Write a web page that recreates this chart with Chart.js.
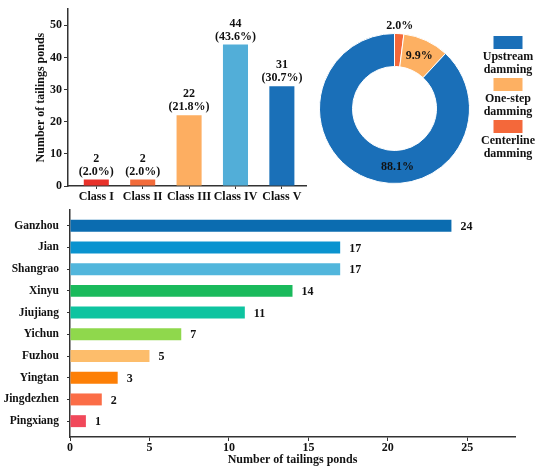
<!DOCTYPE html>
<html>
<head>
<meta charset="utf-8">
<script src="https://cdn.jsdelivr.net/npm/chart.js@4"></script>
<style>
  body{margin:0;background:#fff;}
  .box{position:absolute;}
</style>
</head>
<body>
<div class="box" style="left:0;top:0;width:312px;height:212px"><canvas id="classChart"></canvas></div>
<div class="box" style="left:310px;top:0;width:240px;height:195px"><canvas id="damChart"></canvas></div>
<div class="box" style="left:0;top:195px;width:550px;height:278px"><canvas id="cityChart"></canvas></div>
<script>
// datos
const classLabels = ['Class I','Class II','Class III','Class IV','Class V'];
const classCounts = [2, 2, 22, 44, 31];
const classPct = ['2.0','2.0','21.8','43.6','30.7'];
const classColors = ['#e8312a','#f26b3a','#fdae61','#52aed8','#1a70b8'];

const damLabels = [['Centerline','damming'],['One-step','damming'],['Upstream','damming']];
const damPct = [2.0, 9.9, 88.1];
const damColors = ['#f4683a','#fdb062','#1a6fb8'];

const cities = ['Ganzhou','Jian','Shangrao','Xinyu','Jiujiang','Yichun','Fuzhou','Yingtan','Jingdezhen','Pingxiang'];
const cityCounts = [24, 17, 17, 14, 11, 7, 5, 3, 2, 1];
const cityColors = ['#0b6cb0','#0a93cf','#52b6dc','#1aba5c','#0ec4a0','#8fd84c','#fdbd6b','#fd7f06','#fb6d47','#f1485a'];

const FONT = 'Liberation Serif';
const bold = (s)=>({family:FONT, size:s, weight:'bold'});
const ink = '#111';
Chart.defaults.color = ink;

// ticks enteros solo en las posiciones de las categorias
const indexTicks = (n)=> (s)=>{ s.ticks = Array.from({length:n}, (_,i)=>({value:i})); };

// etiquetas encima de las barras (valor + porcentaje)
const classLabelPlugin = {
  id:'classLabels',
  afterDatasetsDraw(chart){
    const ctx = chart.ctx;
    ctx.save();
    ctx.font = 'bold 12px "'+FONT+'"';
    ctx.fillStyle = ink;
    ctx.textAlign = 'center';
    ctx.textBaseline = 'bottom';
    chart.getDatasetMeta(0).data.forEach((bar,i)=>{
      ctx.fillText('('+classPct[i]+'%)', bar.x, bar.y - 2);
      ctx.fillText(String(classCounts[i]), bar.x, bar.y - 15);
    });
    ctx.restore();
  }
};

new Chart(document.getElementById('classChart'), {
  type:'bar',
  data:{ datasets:[{ data:classCounts.map((v,i)=>({x:i, y:v})), backgroundColor:classColors, barPercentage:0.54, categoryPercentage:1 }] },
  options:{
    responsive:true, maintainAspectRatio:false, animation:false,
    layout:{ padding:{ top:8, right:6, left:34 } },
    plugins:{ legend:{display:false}, tooltip:{enabled:false} },
    scales:{
      x:{
        type:'linear', min:-0.61, max:4.52, offset:false,
        afterBuildTicks:indexTicks(classLabels.length),
        grid:{ drawOnChartArea:false, drawTicks:true, tickLength:3, color:'#333', offset:false },
        border:{ color:'#333', width:1.5 },
        ticks:{ font:bold(12), color:ink, padding:1, maxRotation:0, autoSkip:false,
          callback:(v)=> classLabels[v] },
        afterFit(s){ s.height = 26; }
      },
      y:{
        min:0, max:55,
        afterBuildTicks(s){ s.ticks = s.ticks.filter(t=>t.value % 10 === 0); },
        grid:{ drawOnChartArea:false, drawTicks:true, tickLength:4, color:'#333' },
        border:{ color:'#333', width:1.5 },
        ticks:{ font:bold(12), color:ink, padding:2 },
        title:{ display:true, text:'Number of tailings ponds', font:bold(12), color:ink, padding:{top:0,bottom:0} },
        afterFit(s){ s.width = 34; }
      }
    }
  },
  plugins:[classLabelPlugin]
});

// porcentajes sobre el anillo y leyenda apilada a la derecha
const damPlugin = {
  id:'damLabels',
  afterDatasetsDraw(chart){
    const ctx = chart.ctx;
    const arcs = chart.getDatasetMeta(0).data;
    ctx.save();
    ctx.font = 'bold 12px "'+FONT+'"';
    ctx.fillStyle = ink;
    ctx.textAlign = 'center';
    ctx.textBaseline = 'middle';
    arcs.forEach((a,i)=>{
      let ang = (a.startAngle + a.endAngle)/2;
      let r = (a.innerRadius + a.outerRadius)/2;
      if (damPct[i] < 5) r = a.outerRadius + 8;
      if (damPct[i] > 50) ang = Math.PI/2 - 0.05;
      ctx.fillText(damPct[i].toFixed(1)+'%', a.x + r*Math.cos(ang), a.y + r*Math.sin(ang));
    });
    // leyenda: orden inverso (Upstream arriba)
    const cx = 198, bw = 29, bh = 13;
    let y = 36;
    for (let i = damLabels.length-1; i >= 0; i--){
      ctx.fillStyle = damColors[i];
      ctx.fillRect(cx - bw/2, y, bw, bh);
      ctx.fillStyle = ink;
      ctx.fillText(damLabels[i][0], cx, y + 21);
      ctx.fillText(damLabels[i][1], cx, y + 34);
      y += 42;
    }
    ctx.restore();
  }
};

new Chart(document.getElementById('damChart'), {
  type:'doughnut',
  data:{ labels:damLabels.map(l=>l.join(' ')), datasets:[{ data:damPct, backgroundColor:damColors, borderColor:'#fff', borderWidth:1 }] },
  options:{
    responsive:true, maintainAspectRatio:false, animation:false,
    cutout:'56%',
    layout:{ padding:{ left:9, top:33, right:80, bottom:11 } },
    plugins:{ legend:{display:false}, tooltip:{enabled:false} }
  },
  plugins:[damPlugin]
});

// valores al final de cada barra horizontal
const cityLabelPlugin = {
  id:'cityLabels',
  afterDatasetsDraw(chart){
    const ctx = chart.ctx;
    ctx.save();
    ctx.font = 'bold 12px "'+FONT+'"';
    ctx.fillStyle = ink;
    ctx.textAlign = 'left';
    ctx.textBaseline = 'middle';
    chart.getDatasetMeta(0).data.forEach((bar,i)=>{
      ctx.fillText(String(cityCounts[i]), bar.x + 9, bar.y + 1);
    });
    ctx.restore();
  }
};

new Chart(document.getElementById('cityChart'), {
  type:'bar',
  data:{ datasets:[{ data:cityCounts.map((v,i)=>({x:v, y:i})), backgroundColor:cityColors, barPercentage:0.55, categoryPercentage:1 }] },
  options:{
    indexAxis:'y',
    responsive:true, maintainAspectRatio:false, animation:false,
    layout:{ padding:{ top:13, right:35 } },
    plugins:{ legend:{display:false}, tooltip:{enabled:false} },
    scales:{
      x:{
        min:0, max:28,
        afterBuildTicks(s){ s.ticks = s.ticks.filter(t=>t.value % 5 === 0); },
        grid:{ drawOnChartArea:false, drawTicks:true, tickLength:4, color:'#333' },
        border:{ color:'#333', width:1.5 },
        ticks:{ font:bold(12), color:ink, padding:0 },
        title:{ display:true, text:'Number of tailings ponds', font:bold(12), color:ink, padding:{top:0,bottom:6} },
        afterFit(s){ s.height = 36; }
      },
      y:{
        type:'linear', reverse:true, min:-0.73, max:9.73, offset:false,
        afterBuildTicks:indexTicks(cities.length),
        grid:{ drawOnChartArea:false, drawTicks:true, tickLength:3, color:'#333', offset:false },
        border:{ color:'#333', width:1.5 },
        ticks:{ font:bold(11.5), color:ink, padding:8, autoSkip:false,
          callback:(v)=> cities[v] },
        afterFit(s){ s.width = 70; }
      }
    }
  },
  plugins:[cityLabelPlugin]
});
</script>
</body>
</html>
